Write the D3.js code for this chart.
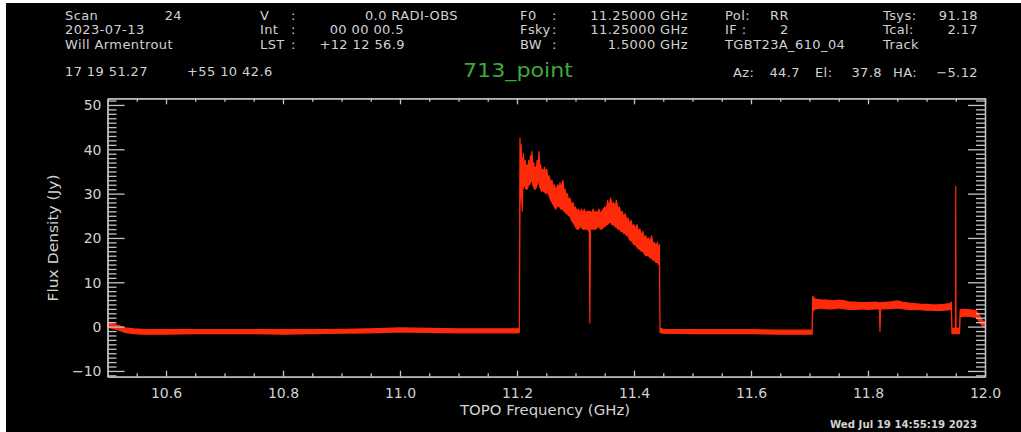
<!DOCTYPE html>
<html><head><meta charset="utf-8">
<script src="https://cdn.jsdelivr.net/npm/d3@7"></script>
<style>
html,body{margin:0;padding:0;background:#000;}
svg{display:block;}
text{font-family:"DejaVu Sans",sans-serif;}
</style></head><body>
<svg id="c" width="1021" height="432"></svg>
<script>
// Spectrum, segment by segment: [frequency GHz, upper edge Jy, lower edge Jy] of the channel scatter
const lowBaseline = [
 [10.500,0.8,-0.2],[10.510,0.6,-0.4],[10.520,0.2,-0.8],[10.530,-0.3,-1.3],[10.545,-0.5,-1.6],
 [10.560,-0.6,-1.7],[10.600,-0.7,-1.7],[10.650,-0.7,-1.6],[10.700,-0.7,-1.6],[10.750,-0.7,-1.6],
 [10.800,-0.7,-1.7],[10.850,-0.7,-1.6],[10.900,-0.6,-1.5],[10.950,-0.5,-1.4],[11.000,-0.3,-1.2],
 [11.050,-0.4,-1.3],[11.100,-0.5,-1.4],[11.150,-0.5,-1.4],[11.200,-0.5,-1.4],[11.204,-0.4,-1.3]
];
const sourceBand = [
 [11.2051,42.5,27.0],[11.2060,39.0,30.0],[11.2070,41.0,31.0],[11.2080,37.0,29.0],[11.2090,38.0,26.0],
 [11.2100,36.5,31.0],[11.2110,39.0,31.5],[11.2125,36.0,32.0],[11.2140,37.5,31.5],[11.2155,35.5,31.0],
 [11.2170,36.5,31.0],[11.2185,35.5,31.5],[11.2200,37.5,32.0],[11.2215,36.0,32.0],[11.2230,38.5,32.5],
 [11.2245,36.5,33.0],[11.2256,39.5,33.0],[11.2270,36.0,32.0],[11.2285,37.0,31.5],[11.2300,35.0,31.0],
 [11.2315,36.0,31.0],[11.2330,35.5,31.5],[11.2345,37.5,32.0],[11.2360,36.5,32.5],[11.2376,39.5,33.0],
 [11.2390,36.0,31.5],[11.2405,36.5,31.0],[11.2420,34.5,30.5],[11.2435,35.5,31.0],[11.2450,34.5,30.5],
 [11.2470,36.0,30.5],[11.2490,34.5,30.0],[11.2510,35.5,30.5],[11.2530,33.5,30.0],[11.2550,34.0,29.5],
 [11.2575,32.5,28.5],[11.2598,33.0,28.0],[11.2620,31.5,27.5],[11.2640,32.0,27.0],[11.2660,30.5,26.5],
 [11.2680,31.5,27.0],[11.2700,32.0,27.5],[11.2720,30.5,27.0],[11.2735,32.5,27.0],[11.2750,31.0,26.5],
 [11.2765,32.0,26.5],[11.2786,33.0,26.5],[11.2800,30.5,26.0],[11.2820,31.0,26.0],[11.2840,29.5,25.5],
 [11.2860,30.0,25.5],[11.2880,28.5,25.0],[11.2906,29.0,25.0],[11.2930,27.5,24.0],[11.2957,28.0,23.5],
 [11.2980,26.5,23.0],[11.3000,27.0,22.5],[11.3025,26.0,22.0],[11.3050,26.5,22.0],[11.3075,25.5,22.5],
 [11.3100,26.5,22.5],[11.3125,25.5,22.0],[11.3150,26.5,22.0],[11.3175,25.5,22.0],[11.3200,26.0,22.0],
 [11.3235,26.0,21.5],[11.3245,24.0,0.8],[11.3255,26.0,22.0],[11.3280,25.5,22.0],[11.3300,26.5,22.0],
 [11.3325,25.5,22.0],[11.3350,26.0,22.0],[11.3375,25.5,22.5],[11.3400,26.5,22.5],[11.3425,25.5,22.0],
 [11.3450,26.0,22.0],[11.3475,26.5,22.5],[11.3500,27.0,22.5],[11.3525,26.5,23.0],[11.3550,28.5,23.0],
 [11.3575,27.0,23.5],[11.3600,29.0,23.5],[11.3625,27.5,23.0],[11.3650,28.0,23.0],[11.3675,27.0,22.5],
 [11.3700,28.5,22.5],[11.3725,26.5,22.0],[11.3750,27.0,22.0],[11.3775,25.5,21.5],[11.3800,26.0,21.5],
 [11.3825,24.5,21.0],[11.3850,25.5,21.0],[11.3875,24.0,20.5],[11.3900,24.5,20.5],[11.3925,23.0,19.5],
 [11.3950,24.0,19.5],[11.3975,22.5,19.0],[11.4000,23.0,18.5],[11.4025,22.0,18.5],[11.4050,23.0,18.0],
 [11.4075,21.5,17.5],[11.4100,22.0,17.5],[11.4125,20.5,17.0],[11.4150,21.5,17.0],[11.4175,20.0,16.5],
 [11.4200,20.5,16.0],[11.4225,19.5,16.0],[11.4250,20.0,16.0],[11.4275,19.0,15.5],[11.4300,20.5,15.5],
 [11.4325,18.5,15.0],[11.4350,19.0,15.0],[11.4375,18.0,14.5],[11.4400,19.0,14.5],[11.4420,17.5,14.0],
 [11.4435,18.5,14.0]
];
const midBaseline = [
 [11.4445,-0.3,-1.3],[11.450,-0.6,-1.5],[11.500,-0.7,-1.6],[11.550,-0.7,-1.6],[11.600,-0.7,-1.6],
 [11.650,-0.8,-1.7],[11.700,-0.8,-1.7],[11.7045,-0.8,-1.7]
];
const upperBand = [
 [11.7055,6.8,3.5],[11.710,6.2,4.0],[11.720,6.0,4.2],[11.730,6.0,4.0],[11.740,5.8,4.0],
 [11.750,6.0,4.2],[11.760,5.8,4.0],[11.770,5.5,3.9],[11.780,5.5,3.9],[11.790,5.4,4.0],
 [11.800,5.4,3.9],[11.815,5.5,4.0],[11.8195,5.4,4.0],[11.8205,5.0,-1.1],[11.8215,5.4,4.0],
 [11.830,5.5,4.0],[11.840,5.6,4.1],[11.850,5.8,4.2],[11.860,5.5,4.0],[11.870,5.3,3.9],
 [11.880,5.2,3.8],[11.890,5.0,3.8],[11.900,5.0,3.7],[11.910,4.9,3.7],[11.920,4.9,3.6],
 [11.930,5.0,3.7],[11.940,5.2,3.8],[11.9425,5.5,3.9]
];
const edgeDip = [
 [11.9435,-0.4,-1.6],[11.9495,-0.4,-1.6],[11.9500,31.6,-1.6],[11.9505,-0.4,-1.6],[11.9565,-0.4,-1.6]
];
const tailBand = [
 [11.9575,3.8,2.2],[11.965,3.9,2.4],[11.975,3.8,2.3],[11.985,3.6,2.1],[11.990,2.6,1.2],
 [11.995,1.5,0.3],[12.000,0.9,-0.2]
];

const xLabelTicks = [10.6, 10.8, 11.0, 11.2, 11.4, 11.6, 11.8, 12.0];
const xMinorTicks = [10.55,10.65,10.7,10.75,10.85,10.9,10.95,11.05,11.1,11.15,11.25,11.3,11.35,11.45,11.5,11.55,11.65,11.7,11.75,11.85,11.9,11.95];
const yLabelTicks = [-10, 0, 10, 20, 30, 40, 50];
const yMinorTicks = d3.range(-11, 52).filter(v => v % 10 !== 0);

// Header block (scan metadata)
const headerLeft  = ["Scan", "2023-07-13", "Will Armentrout"];
const headerKeysB = ["V", "Int", "LST"];
const headerValsB = ["0.0 RADI-OBS", "00 00 00.5", "+12 12 56.9"];
const headerKeysC = ["F0", "Fsky", "BW"];
const headerValsC = ["11.25000 GHz", "11.25000 GHz", "1.5000 GHz"];
const headerKeysD = ["Pol:", "IF :", "TGBT23A_610_04"];
const headerValsD = ["RR", "2", ""];
const headerKeysE = ["Tsys:", "Tcal:", "Track"];
const headerValsE = ["91.18", "2.17", ""];
const scanNumber = "24";
const sourceName = "713_point";
const coordRA = "17 19 51.27", coordDec = "+55 10 42.6";
const azElHa = [["Az:", "44.7"], ["El:", "37.8"], ["HA:", "-5.12"]];
const stamp = "Wed Jul 19 14:55:19 2023";

const svg = d3.select("#c");
const W = 1021, H = 432;
svg.append("rect").attr("width", W).attr("height", H).attr("fill", "#000");
// light page margin along the top and left edges
svg.append("rect").attr("width", W).attr("height", 3).attr("fill", "#fff");
svg.append("rect").attr("width", 6).attr("height", H).attr("fill", "#fff");

const plot = {left: 107.5, right: 985, top: 98.3, bottom: 376.7};
const x = d3.scaleLinear().domain([10.5, 12.0]).range([plot.left, plot.right]);
const y = d3.scaleLinear().domain([-11.3, 51.5]).range([plot.bottom, plot.top]);

const axisCol = "#c4c4c4", textCol = "#d2d2d2";

// clip for spectrum
svg.append("clipPath").attr("id", "pc").append("rect")
  .attr("x", plot.left).attr("y", plot.top)
  .attr("width", plot.right - plot.left).attr("height", plot.bottom - plot.top);

const pts = [].concat(lowBaseline, sourceBand, midBaseline, upperBand, edgeDip, tailBand)
  .map(([f, hi, lo]) => ({f, hi, lo}));
const band = d3.area().x(d => x(d.f)).y0(d => y(d.lo)).y1(d => y(d.hi));
svg.append("path").datum(pts)
  .attr("clip-path", "url(#pc)")
  .attr("d", band)
  .attr("fill", "#ff2a0a").attr("stroke", "#ff2a0a").attr("stroke-width", 1.2)
  .attr("stroke-linejoin", "round");

function styleAxis(g) {
  g.selectAll("path, line").attr("stroke", axisCol).attr("stroke-width", 1.3);
  g.selectAll("text").attr("fill", textCol).attr("font-size", 14)
    .attr("font-family", '"DejaVu Sans", sans-serif');
}

// bottom axis: labelled major ticks + minor ticks, both pointing inward
svg.append("g").attr("transform", `translate(0,${plot.bottom})`)
  .call(d3.axisBottom(x).tickValues(xMinorTicks).tickSizeInner(-3.5).tickSizeOuter(0).tickFormat(""))
  .call(styleAxis);
svg.append("g").attr("transform", `translate(0,${plot.bottom})`)
  .call(d3.axisBottom(x).tickValues(xLabelTicks).tickSizeInner(-6).tickSizeOuter(0)
        .tickPadding(15).tickFormat(d3.format(".1f")))
  .call(styleAxis)
  .call(g => g.selectAll("text").attr("dy", 0).attr("y", 21));

// top axis
svg.append("g").attr("transform", `translate(0,${plot.top})`)
  .call(d3.axisTop(x).tickValues(xMinorTicks).tickSizeInner(-3.5).tickSizeOuter(0).tickFormat(""))
  .call(styleAxis);
svg.append("g").attr("transform", `translate(0,${plot.top})`)
  .call(d3.axisTop(x).tickValues(xLabelTicks).tickSizeInner(-6).tickSizeOuter(0).tickFormat(""))
  .call(styleAxis);

// left axis
svg.append("g").attr("transform", `translate(${plot.left},0)`)
  .call(d3.axisLeft(y).tickValues(yMinorTicks).tickSizeInner(-9).tickSizeOuter(0).tickFormat(""))
  .call(styleAxis);
svg.append("g").attr("transform", `translate(${plot.left},0)`)
  .call(d3.axisLeft(y).tickValues(yLabelTicks).tickSizeInner(-17).tickSizeOuter(0)
        .tickPadding(6).tickFormat(d => d < 0 ? "\u2212" + Math.abs(d) : d))
  .call(styleAxis)
  .call(g => g.selectAll("text").attr("x", -6).attr("dy", "0.36em"));

// right axis
svg.append("g").attr("transform", `translate(${plot.right},0)`)
  .call(d3.axisRight(y).tickValues(yMinorTicks).tickSizeInner(-9).tickSizeOuter(0).tickFormat(""))
  .call(styleAxis);
svg.append("g").attr("transform", `translate(${plot.right},0)`)
  .call(d3.axisRight(y).tickValues(yLabelTicks).tickSizeInner(-17).tickSizeOuter(0).tickFormat(""))
  .call(styleAxis);

// axis titles
svg.append("text").attr("x", 545).attr("y", 415).attr("text-anchor", "middle")
  .attr("fill", textCol).attr("font-size", 14).attr("textLength", 170).attr("lengthAdjust", "spacingAndGlyphs")
  .text("TOPO Frequency (GHz)");
svg.append("text").attr("transform", "translate(58,238) rotate(-90)").attr("text-anchor", "middle")
  .attr("fill", textCol).attr("font-size", 14).attr("textLength", 127).attr("lengthAdjust", "spacingAndGlyphs")
  .text("Flux Density (Jy)");
svg.append("text").attr("x", 830).attr("y", 428)
  .attr("fill", textCol).attr("font-size", 10).attr("font-weight", "bold")
  .attr("textLength", 147).attr("lengthAdjust", "spacingAndGlyphs")
  .text(stamp);

// header text
const hdr = svg.append("g").attr("fill", textCol).attr("font-size", 13).attr("letter-spacing", 0.4);
const rows = [19.5, 34, 48.5];
function put(txt, xx, yy, anchor) {
  if (!txt) return;
  hdr.append("text").attr("x", xx).attr("y", yy).attr("text-anchor", anchor || "start").text(txt);
}
headerLeft.forEach((t, i) => put(t, 65, rows[i]));
put(scanNumber, 182, rows[0], "end");
headerKeysB.forEach((t, i) => { put(t, 260, rows[i]); put(":", 291, rows[i]); });
put(headerValsB[0], 458, rows[0], "end");
put(headerValsB[1], 404, rows[1], "end");
put(headerValsB[2], 405, rows[2], "end");
headerKeysC.forEach((t, i) => { put(t, 520, rows[i]); put(":", 552, rows[i]); put(headerValsC[i], 688, rows[i], "end"); });
headerKeysD.forEach((t, i) => put(t, 725, rows[i]));
put(headerValsD[0], 770, rows[0]);
put(headerValsD[1], 780, rows[1]);
headerKeysE.forEach((t, i) => { put(t, 883, rows[i]); put(headerValsE[i], 978, rows[i], "end"); });

put(coordRA, 65, 76);
put(coordDec, 187, 76);
const azX = [[733, 800], [815, 882], [893, 978]];
azElHa.forEach(([k, v], i) => { put(k, azX[i][0], 77); put(v.replace("-", "\u2212"), azX[i][1], 77, "end"); });

svg.append("text").attr("x", 463).attr("y", 77).attr("fill", "#3daa3d")
  .attr("font-size", 19).attr("textLength", 110).attr("lengthAdjust", "spacingAndGlyphs")
  .text(sourceName);
</script>
</body></html>
